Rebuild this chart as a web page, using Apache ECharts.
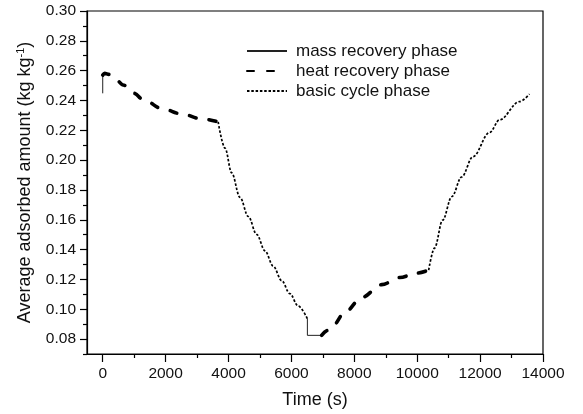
<!DOCTYPE html>
<html>
<head>
<meta charset="utf-8">
<script src="https://cdn.jsdelivr.net/npm/echarts@6/dist/echarts.min.js"></script>
<style>
  html, body { margin: 0; padding: 0; background: #fff; }
  #chart { width: 583px; height: 414px; }
</style>
</head>
<body>
<div id="chart"></div>
<script>
// Average adsorbed amount over one cycle, split into its phases: [time (s), q (kg/kg)]
const massRecovery1 = [[0, 0.2448], [0, 0.2570]];
const heatRecovery1 = [[0, 0.2570], [60, 0.2582], [200, 0.2575], [400, 0.2545], [650, 0.2504],
  [1000, 0.2448], [1300, 0.2403], [1900, 0.2345], [2500, 0.2310], [3150, 0.2277], [3670, 0.2256]];
const basicCycle1 = [[3670, 0.2256], [3890, 0.2080], [4100, 0.1915], [4365, 0.1750], [4630, 0.1622],
  [4895, 0.1502], [5160, 0.1392], [5420, 0.1290], [5690, 0.1192], [5950, 0.1105], [6215, 0.1022], [6508, 0.0936]];
const massRecovery2 = [[6508, 0.0936], [6508, 0.0825], [6960, 0.0825]];
const heatRecovery2 = [[6960, 0.0825], [7150, 0.0858], [7320, 0.0892], [7720, 0.0985], [8240, 0.1080],
  [8870, 0.1165], [9450, 0.1213], [10000, 0.1243], [10365, 0.1263]];
const basicCycle2 = [[10365, 0.1263], [10550, 0.1410], [10810, 0.1598], [11100, 0.1755], [11413, 0.1887],
  [11772, 0.2023], [12300, 0.2185], [12620, 0.2270], [13250, 0.2392], [13570, 0.2443]];

// Axis ticks and labels
const timeTicks = [0, 2000, 4000, 6000, 8000, 10000, 12000, 14000];
const timeMinorTicks = [1000, 3000, 5000, 7000, 9000, 11000, 13000];
const qTicks = [0.08, 0.10, 0.12, 0.14, 0.16, 0.18, 0.20, 0.22, 0.24, 0.26, 0.28, 0.30];
const qMinorTicks = [0.07, 0.09, 0.11, 0.13, 0.15, 0.17, 0.19, 0.21, 0.23, 0.25, 0.27, 0.29];

const phaseNames = ['mass recovery phase', 'heat recovery phase', 'basic cycle phase'];

const FONT = '"Liberation Sans", Arial, sans-serif';
const INK = '#000';

const styles = {
  'mass recovery phase': { width: 1, type: 'solid', color: '#222' },
  'heat recovery phase': { width: 3.6, type: [7, 13], cap: 'round', color: INK },
  'basic cycle phase': { width: 1.7, type: [2.5, 1.8], color: INK }
};

function seg(name, data) {
  return {
    name: name,
    type: 'line',
    data: data,
    xAxisIndex: 0,
    yAxisIndex: 0,
    showSymbol: false,
    symbol: 'none',
    smooth: name === 'mass recovery phase' ? false : 0.35,
    smoothMonotone: 'x',
    lineStyle: styles[name],
    itemStyle: { color: styles[name].color },
    emphasis: { disabled: true },
    silent: true
  };
}

const chart = echarts.init(document.getElementById('chart'), null, { renderer: 'canvas' });

const valueAxisBase = {
  splitLine: { show: false },
  axisLine: { show: true, onZero: false, lineStyle: { color: INK, width: 1.2 } }
};

chart.setOption({
  animation: false,
  backgroundColor: '#fff',
  textStyle: { fontFamily: FONT },
  grid: {
    left: 87, right: 40, top: 11, bottom: 60,
    show: true, borderColor: INK, borderWidth: 1.2, backgroundColor: 'transparent'
  },
  legend: {
    data: phaseNames,
    orient: 'vertical',
    left: 241, top: 37.5,
    itemWidth: 40, itemHeight: 14, itemGap: 3,
    // line-only keys: hide the marker that line series add to their legend icon
    itemStyle: { color: 'rgba(0,0,0,0)', borderColor: 'rgba(0,0,0,0)', borderWidth: 0 },
    textStyle: { fontFamily: FONT, fontSize: 17, color: '#111', padding: [0, 0, 0, 4] },
    selectedMode: false
  },
  xAxis: [
    Object.assign({}, valueAxisBase, {
      type: 'value', min: -500, max: 14000,
      name: 'Time (s)', nameLocation: 'middle', nameGap: 37,
      nameTextStyle: { fontFamily: FONT, fontSize: 18, color: '#111' },
      axisTick: { show: true, inside: false, length: 8, customValues: timeTicks, lineStyle: { color: INK, width: 1.2 } },
      axisLabel: {
        show: true, customValues: timeTicks, margin: 12, fontFamily: FONT, fontSize: 15.5, color: '#111',
        formatter: function (v) { return String(Math.round(v)); }
      }
    }),
    {
      type: 'value', min: -500, max: 14000, position: 'bottom', gridIndex: 0,
      splitLine: { show: false },
      axisLine: { show: false, onZero: false },
      axisTick: { show: true, length: 4, customValues: timeMinorTicks, lineStyle: { color: INK, width: 1.2 } },
      axisLabel: { show: false }
    }
  ],
  yAxis: [
    Object.assign({}, valueAxisBase, {
      type: 'value', min: 0.07, max: 0.30,
      name: '{a|Average adsorbed amount (kg kg}{s|-1}{a|)}',
      nameLocation: 'middle', nameGap: 52,
      nameTextStyle: {
        fontFamily: FONT, fontSize: 18, color: '#111',
        rich: {
          a: { fontFamily: FONT, fontSize: 18, color: '#111' },
          s: { fontFamily: FONT, fontSize: 11, color: '#111', padding: [0, 0, 9, 0] }
        }
      },
      axisTick: { show: true, inside: false, length: 7, customValues: qTicks, lineStyle: { color: INK, width: 1.2 } },
      axisLabel: {
        show: true, customValues: qTicks, margin: 11, fontFamily: FONT, fontSize: 15.5, color: '#111',
        formatter: function (v) { return v.toFixed(2); }
      }
    }),
    {
      type: 'value', min: 0.07, max: 0.30, position: 'left', gridIndex: 0,
      splitLine: { show: false },
      axisLine: { show: false, onZero: false },
      axisTick: { show: true, length: 4, customValues: qMinorTicks, lineStyle: { color: INK, width: 1.2 } },
      axisLabel: { show: false }
    }
  ],
  series: [
    seg('mass recovery phase', massRecovery1),
    seg('heat recovery phase', heatRecovery1),
    seg('basic cycle phase', basicCycle1),
    seg('mass recovery phase', massRecovery2),
    seg('heat recovery phase', heatRecovery2),
    seg('basic cycle phase', basicCycle2)
  ]
});
</script>
</body>
</html>
